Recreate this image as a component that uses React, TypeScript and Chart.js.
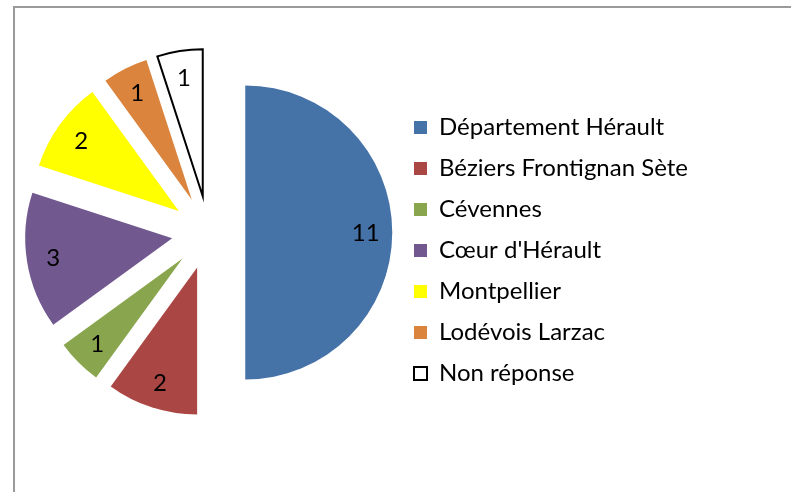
import React, { useEffect, useRef } from 'react';
import { Chart, registerables } from 'chart.js';

Chart.register(...registerables);

// ---- data ----
const categories = [
  'Département Hérault',
  'Béziers Frontignan Sète',
  'Cévennes',
  "Cœur d'Hérault",
  'Montpellier',
  'Lodévois Larzac',
  'Non réponse',
];
// numbers printed on the slices
const labelValues = [11, 2, 1, 3, 2, 1, 1];
// slice sizes as drawn (the first slice fills exactly half of the pie)
const sliceValues = [10, 2, 1, 3, 2, 1, 1];
const sliceColors = ['#4572A7', '#AA4643', '#89A54E', '#71588F', '#FFFF00', '#DB843D', '#FFFFFF'];
const sliceBorderColors = ['#FFFFFF', '#FFFFFF', '#FFFFFF', '#FFFFFF', '#FFFFFF', '#FFFFFF', '#000000'];
const sliceBorderWidths = [0, 0, 0, 0, 0, 0, 2];

const FONT = 'Lato, "Open Sans", sans-serif';
const FONT_SIZE = 24;
const BOX = 13;
const LEGEND_PAD = 17;
const WIDTH = 791;
const HEIGHT = 492;
const LEGEND_LEFT = 396; // left edge of the legend block

// Excel-like "exploded" pie: every slice is pulled out along its mid-angle
const explodePlugin = {
  id: 'explodeSlices',
  afterDatasetsUpdate(chart: any, _args: any, opts: any) {
    const meta = chart.getDatasetMeta(0);
    meta.data.forEach((el: any) => {
      const mid = (el.startAngle + el.endAngle) / 2;
      const d = el.outerRadius * (opts.fraction || 0);
      el.x += Math.cos(mid) * d;
      el.y += Math.sin(mid) * d;
    });
  },
};

const sliceLabelPlugin = {
  id: 'sliceLabels',
  afterDatasetsDraw(chart: any, _args: any, opts: any) {
    const ctx = chart.ctx;
    const meta = chart.getDatasetMeta(0);
    ctx.save();
    ctx.font = `${opts.size}px ${FONT}`;
    ctx.fillStyle = '#000';
    ctx.textAlign = 'center';
    ctx.textBaseline = 'alphabetic';
    meta.data.forEach((el: any, i: number) => {
      const mid = (el.startAngle + el.endAngle) / 2;
      const r = el.outerRadius * opts.position;
      ctx.fillText(
        String(labelValues[i]),
        el.x + Math.cos(mid) * r,
        el.y + Math.sin(mid) * r + opts.size * 0.36
      );
    });
    ctx.restore();
  },
};

export default function App() {
  const ref = useRef<HTMLCanvasElement | null>(null);

  useEffect(() => {
    if (!ref.current) return;
    // natural width of the legend, so that the right padding keeps the legend where it belongs
    const mctx = ref.current.getContext('2d')!;
    mctx.font = `normal ${FONT_SIZE}px ${FONT}`;
    const longest = Math.max(...categories.map((c) => mctx.measureText(c).width));
    const legendWidth = LEGEND_PAD + BOX + FONT_SIZE / 2 + longest + 10;
    const rightPad = Math.max(0, WIDTH - LEGEND_LEFT - legendWidth - 1);
    const leftPad = 2 * 208 - LEGEND_LEFT; // pie centre x = 208

    const chart = new Chart(ref.current, {
      type: 'pie',
      data: {
        labels: categories,
        datasets: [
          {
            data: sliceValues,
            backgroundColor: sliceColors,
            borderColor: sliceBorderColors,
            borderWidth: sliceBorderWidths,
            borderJoinStyle: 'miter',
            radius: 147,
          } as any,
        ],
      },
      options: {
        animation: false,
        responsive: false,
        maintainAspectRatio: false,
        events: [],
        layout: { padding: { left: leftPad, right: rightPad, top: 20, bottom: 47 } },
        plugins: {
          tooltip: { enabled: false },
          legend: {
            position: 'right',
            align: 'center',
            title: {
              display: true,
              text: '',
              padding: { top: 26, bottom: 0 },
              font: { size: 10, lineHeight: 1 },
            },
            labels: {
              boxWidth: BOX,
              boxHeight: BOX,
              padding: LEGEND_PAD,
              color: '#000',
              font: { family: FONT, size: FONT_SIZE },
            },
          } as any,
          explodeSlices: { fraction: 0.25 },
          sliceLabels: { position: 0.82, size: FONT_SIZE },
        } as any,
      },
      plugins: [explodePlugin, sliceLabelPlugin],
    });
    return () => chart.destroy();
  }, []);

  return (
    <div
      style={{
        position: 'fixed',
        left: 0,
        top: 0,
        width: WIDTH,
        height: HEIGHT,
        background: '#fff',
        overflow: 'hidden',
      }}
    >
      <div
        style={{
          position: 'absolute',
          left: 13,
          top: 6,
          width: 900,
          height: 600,
          borderTop: '2px solid #9a9a9a',
          borderLeft: '2px solid #9a9a9a',
        }}
      />
      <canvas
        ref={ref}
        width={WIDTH}
        height={HEIGHT}
        style={{ position: 'absolute', left: 0, top: 0 }}
      />
    </div>
  );
}
